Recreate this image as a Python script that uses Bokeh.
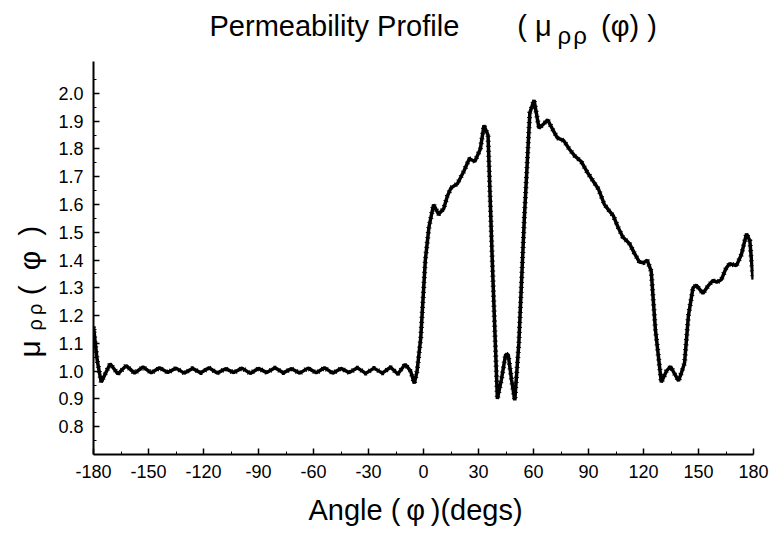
import math
from bokeh.plotting import figure
from bokeh.models import FixedTicker, PrintfTickFormatter, Label, Range1d
from bokeh.embed import file_html
from bokeh.resources import INLINE

# ---- data ----
angle = [-180, -178, -175.8, -170.9, -166.7, -162.2, -157.6, -153,
         -148.5, -144, -139.5, -135, -130.5, -126, -121.5, -117, -112.5, -108,
         -103.5, -99, -94.5, -90, -85.5, -81, -76.5, -72, -67.5, -63, -58.5,
         -54, -49.5, -45, -40.5, -36, -31.5, -27, -22.5, -18, -14, -10, -7,
         -5, -3.5, -1.5, 1, 3, 5.5, 8.2, 11, 13, 15, 18.5, 22, 25, 28, 31, 33,
         35.2, 37.5, 40.3, 42.5, 44.8, 46.2, 48, 49.8, 52, 55, 58, 60.3, 63,
         65.5, 67.7, 70.5, 73, 76.5, 79.5, 82.5, 86, 89, 92.5, 95.5, 98.7, 101,
         103.5, 106, 108.7, 112.3, 115, 117.8, 120, 122, 124.2, 126.5, 129.7,
         132.5, 134.8, 137, 139.1, 141, 142.4, 144.5, 147, 148.8, 152.4, 155,
         157.9, 160, 162.5, 165, 167, 170.7, 173.4, 176.2, 178, 179.8]
mu = [1.16, 1.04, 0.96, 1.027, 0.99, 1.02, 0.993, 1.015,
      0.994, 1.012, 0.995, 1.011, 0.993, 1.010, 0.994, 1.012, 0.993, 1.009,
      0.995, 1.011, 0.992, 1.010, 0.995, 1.012, 0.994, 1.009, 0.993, 1.011, 0.994,
      1.012, 0.993, 1.010, 0.995, 1.012, 0.992, 1.011, 0.993, 1.014, 0.99, 1.025, 1.0,
      0.956, 1.0, 1.12, 1.40, 1.52, 1.60, 1.565, 1.585, 1.63, 1.66, 1.675, 1.72, 1.765, 1.755, 1.80, 1.885,
      1.85, 1.40, 0.90, 0.97, 1.06, 1.06, 0.97, 0.895, 1.10, 1.55, 1.93, 1.976, 1.875,
      1.89, 1.905, 1.87, 1.84, 1.83, 1.80, 1.775, 1.755, 1.72, 1.685, 1.655, 1.60, 1.58,
      1.56, 1.52, 1.483, 1.46, 1.425, 1.393, 1.39, 1.40, 1.36, 1.15, 0.96,
      1.0, 1.017, 0.99, 0.965, 1.0, 1.03, 1.2, 1.30, 1.31, 1.28, 1.305,
      1.327, 1.32, 1.33, 1.37, 1.387, 1.38, 1.42, 1.495, 1.47, 1.33]

x_ticks = [-180, -150, -120, -90, -60, -30, 0, 30, 60, 90, 120, 150, 180]
x_minor = [-165, -135, -105, -75, -45, -15, 15, 45, 75, 105, 135, 165]
y_ticks = [0.8, 0.9, 1.0, 1.1, 1.2, 1.3, 1.4, 1.5, 1.6, 1.7, 1.8, 1.9, 2.0]
y_minor = [0.75, 0.85, 0.95, 1.05, 1.15, 1.25, 1.35, 1.45, 1.55, 1.65, 1.75,
           1.85, 1.95, 2.05]

# ---- layout (canvas pixels) ----
W, H = 771, 530
FL, FR, FT, FB = 93, 753, 61, 454          # frame edges

p = figure(width=W, height=H, output_backend="svg", toolbar_location=None,
           x_range=Range1d(-180, 180), y_range=Range1d(0.7, 2.115),
           min_border_left=FL, min_border_right=W - FR, min_border_top=FT,
           min_border_bottom=H - FB)
p.outline_line_color = None
p.grid.visible = False
p.background_fill_color = "white"
p.border_fill_color = "white"

for ax in (p.xaxis[0], p.yaxis[0]):
    ax.axis_line_width = 2
    ax.axis_line_color = "black"
    ax.major_tick_in = 6
    ax.major_tick_out = 0
    ax.minor_tick_in = 3
    ax.minor_tick_out = 0
    ax.major_tick_line_width = 1.5
    ax.minor_tick_line_width = 1
    ax.major_tick_line_color = "black"
    ax.minor_tick_line_color = "black"
    ax.major_label_text_font = "Liberation Sans"
    ax.major_label_text_font_size = "18px"
    ax.major_label_text_color = "black"
    ax.major_label_standoff = 10

p.xaxis.ticker = FixedTicker(ticks=x_ticks, minor_ticks=x_minor)
p.yaxis.ticker = FixedTicker(ticks=y_ticks, minor_ticks=y_minor)
p.xaxis.formatter = PrintfTickFormatter(format="%d")
p.yaxis.formatter = PrintfTickFormatter(format="%.1f")

p.line(angle, mu, line_color="black", line_width=3.5)
p.line(angle, mu, line_color="black", line_width=5, line_dash="1 4")

# ---- texts (side-panel labels, positioned in canvas pixels) ----
EM, EN, THIN, HAIR, NB = "\u2003", "\u2002", "\u2009", "\u200a", "\u00a0"
MID = 0.35   # the label anchor sits ~0.35 em above the baseline

def lab(side, text, px, py, size, font="Liberation Sans", rot=0.0):
    # px, py give the wanted baseline start; shift to the label's anchor
    if rot:
        px = px - MID * size
    else:
        py = py - MID * size
    p.add_layout(Label(x=px, y=py, x_units="canvas", y_units="canvas",
                       text=text, text_font=font, text_font_size=f"{size}px",
                       text_color="black", angle=rot, text_align="left",
                       text_baseline="alphabetic"), side)

# title
lab("above", "Permeability Profile" + EM + EM + "(" + NB + "μ" + EM + EN
    + THIN + "(φ)" + NB + ")", 209, 36, 29)
lab("above", "ρ" + HAIR + "ρ", 557, 43, 24)

# x axis title
lab("below", "Angle" + NB + "(" + THIN + "φ" + THIN + ")(degs)", 308, 520, 29)

# y axis title (rotated, reading upwards)
r = math.pi / 2
lab("left", "μ" + EM + EN + "(" + EN + "φ" + EN + ")", 39, 357, 30, rot=r)
lab("left", "ρ" + THIN + "ρ", 41, 330, 20, rot=r)

open("out.html", "w").write(file_html(p, INLINE))
